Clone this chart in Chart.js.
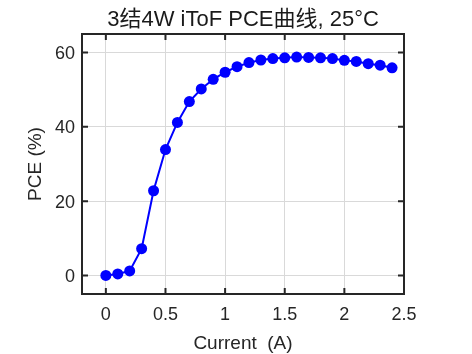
<!DOCTYPE html>
<html>
<head>
<meta charset="utf-8">
<script src="https://cdn.jsdelivr.net/npm/chart.js@4"></script>
<style>
html,body{margin:0;padding:0;background:#fff;}
canvas{display:block;}
</style>
</head>
<body>
<canvas id="c" width="472" height="354"></canvas>
<script>
const currents = [0,0.1,0.2,0.3,0.4,0.5,0.6,0.7,0.8,0.9,1.0,1.1,1.2,1.3,1.4,1.5,1.6,1.7,1.8,1.9,2.0,2.1,2.2,2.3,2.4];
const pce = [0,0.4,1.2,7.2,22.8,33.9,41.2,46.8,50.2,52.8,54.7,56.2,57.3,58.0,58.4,58.6,58.8,58.7,58.6,58.4,57.9,57.6,57.0,56.6,55.9];
const xTicks = [0,0.5,1,1.5,2,2.5];
const yTicks = [0,20,40,60];
const titleText = '3结4W iToF PCE曲线, 25°C';
const xLabel = 'Current  (A)';
const yLabel = 'PCE (%)';

const FONT = '"Liberation Sans", Arial, "Noto Sans CJK SC", sans-serif';
const AX = '#262626';

const boxPlugin = {
  id: 'boxTicks',
  afterDatasetsDraw(chart) {
    const {ctx, chartArea: {left, right, top, bottom}, scales: {x, y}} = chart;
    const L = 6;
    ctx.save();
    ctx.strokeStyle = AX;
    ctx.lineWidth = 2;
    ctx.beginPath();
    for (const t of x.ticks) {
      const px = x.getPixelForValue(t.value);
      ctx.moveTo(px, bottom); ctx.lineTo(px, bottom - L);
      ctx.moveTo(px, top); ctx.lineTo(px, top + L);
    }
    for (const t of y.ticks) {
      const py = y.getPixelForValue(t.value);
      ctx.moveTo(left, py); ctx.lineTo(left + L, py);
      ctx.moveTo(right, py); ctx.lineTo(right - L, py);
    }
    ctx.stroke();
    ctx.strokeRect(left, top, right - left, bottom - top);
    ctx.restore();
  }
};

new Chart(document.getElementById('c'), {
  type: 'scatter',
  data: {
    datasets: [{
      data: currents.map((c, i) => ({x: c, y: pce[i]})),
      showLine: true,
      borderColor: '#0000ff',
      backgroundColor: '#0000ff',
      borderWidth: 2,
      pointRadius: 5.5,
      pointHoverRadius: 5.5,
      pointBorderWidth: 0,
      tension: 0
    }]
  },
  options: {
    responsive: false,
    animation: false,
    events: [],
    layout: {padding: {left: 0, right: 68, top: 0, bottom: 0}},
    plugins: {
      legend: {display: false},
      tooltip: {enabled: false},
      title: {
        display: true,
        text: titleText,
        fullSize: false,
        color: '#1a1a1a',
        font: {family: FONT, size: 22, weight: 'normal'},
        padding: {top: 6.5, bottom: 1.1}
      }
    },
    scales: {
      x: {
        type: 'linear',
        min: -0.2,
        max: 2.5,
        afterBuildTicks: s => { s.ticks = xTicks.map(v => ({value: v})); },
        afterFit: s => { s.height = 60; },
        ticks: {
          color: AX,
          font: {family: FONT, size: 18},
          padding: 10,
          callback: v => String(v)
        },
        grid: {color: '#d9d9d9', lineWidth: 1, drawTicks: false},
        border: {display: false},
        title: {
          display: true,
          text: xLabel,
          color: AX,
          font: {family: FONT, size: 19},
          padding: {top: 0, bottom: -1}
        }
      },
      y: {
        type: 'linear',
        min: -5,
        max: 65,
        afterBuildTicks: s => { s.ticks = yTicks.map(v => ({value: v})); },
        afterFit: s => { s.width = 82; },
        ticks: {
          color: AX,
          font: {family: FONT, size: 18},
          padding: 7,
          labelOffset: 1.5,
          callback: v => String(v)
        },
        grid: {color: '#d9d9d9', lineWidth: 1, drawTicks: false},
        border: {display: false},
        title: {
          display: true,
          text: yLabel,
          color: AX,
          font: {family: FONT, size: 19},
          padding: {top: 24, bottom: 0}
        }
      }
    }
  },
  plugins: [boxPlugin]
});
</script>
</body>
</html>
